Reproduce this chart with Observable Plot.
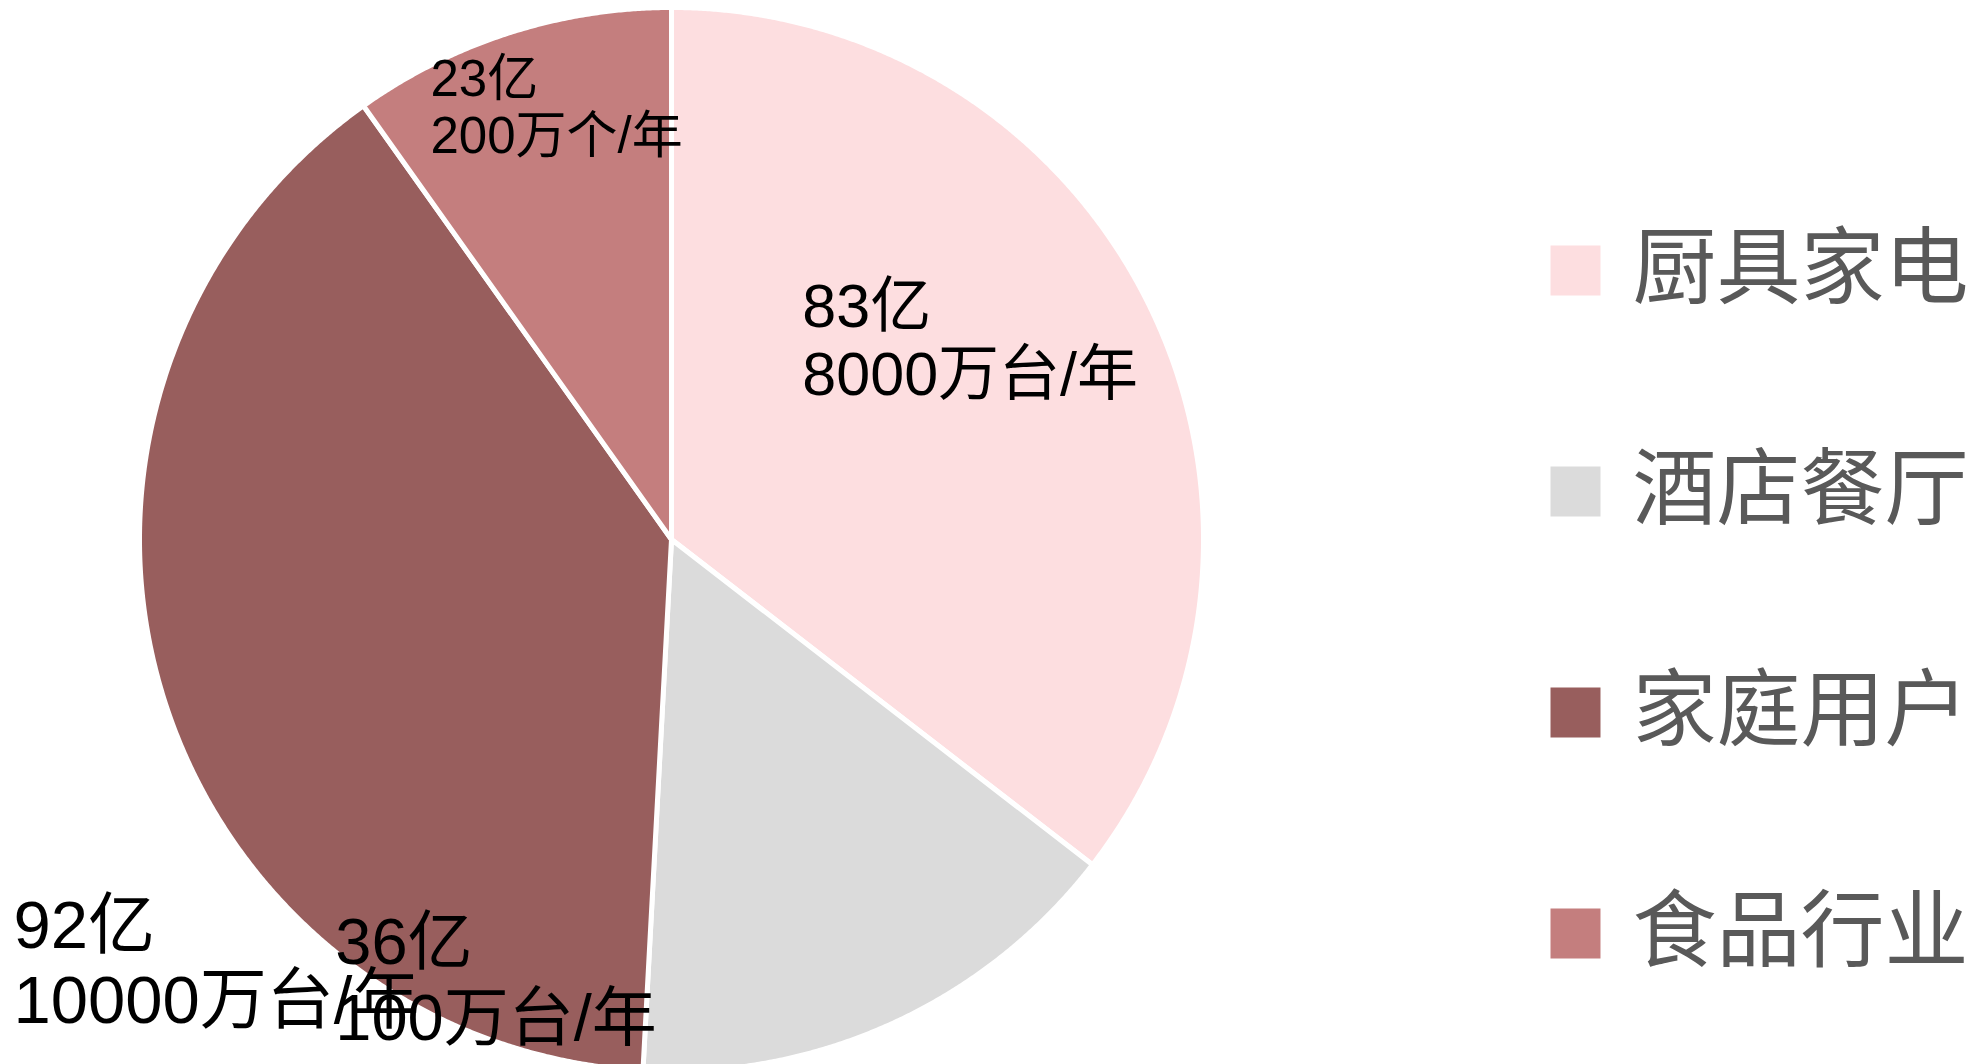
<!DOCTYPE html>
<html>
<head>
<meta charset="utf-8">
<script src="https://cdn.jsdelivr.net/npm/d3@7"></script>
<script src="https://cdn.jsdelivr.net/npm/@observablehq/plot@0.6"></script>
<style>
  html, body { margin: 0; padding: 0; background: #fff; overflow: hidden; }
  #wrap { position: relative; width: 1974px; height: 1064px; }
  #legend { position: absolute; left: 1530px; top: 160px; }
  svg { display: block; }
</style>
</head>
<body>
<div id="wrap"><div id="pie"></div><div id="legend"></div></div>
<script>
// ---- data ----
const categories = ["厨具家电", "酒店餐厅", "家庭用户", "食品行业"];
const values = [83, 36, 92, 23];
const valueLabels = ["83亿", "36亿", "92亿", "23亿"];
const capacityLabels = ["8000万台/年", "100万台/年", "10000万台/年", "200万个/年"];

// ---- styles / layout ----
const colors = ["#fddee0", "#dbdbdb", "#985e5d", "#c47e7e"];
const W = 1974, H = 1064;
const cx = 671, cy = 539, R = 532;
// label anchor (top-left) in pie-radius units, relative to the pie centre
const labelLayout = [
  {lx: 0.246, ly: -0.489, size: 61, lh: 1.11},
  {lx: -0.632, ly: 0.695, size: 65, lh: 1.18},
  {lx: -1.237, ly: 0.668, size: 67, lh: 1.12},
  {lx: -0.453, ly: -0.910, size: 51, lh: 1.12}
];
const labelFont = "'Liberation Sans', 'Noto Sans CJK SC', sans-serif";

// ---- pie geometry from values ----
const arcs = d3.pie().sort(null).value(d => d.value)(
  categories.map((c, i) => ({category: c, value: values[i]}))
);
const pts = [];
for (const a of arcs) {
  const c = a.data.category;
  pts.push({category: c, x: 0, y: 0});
  const n = Math.max(2, Math.ceil((a.endAngle - a.startAngle) / 0.004));
  for (let k = 0; k <= n; k++) {
    const t = a.startAngle + (a.endAngle - a.startAngle) * k / n;
    pts.push({category: c, x: Math.sin(t), y: -Math.cos(t)});
  }
  pts.push({category: c, x: 0, y: 0});
}

const labels = categories.map((c, i) => ({
  text: valueLabels[i] + "\n" + capacityLabels[i],
  x: labelLayout[i].lx, y: labelLayout[i].ly,
  size: labelLayout[i].size, lh: labelLayout[i].lh
}));

const color = {domain: categories, range: colors};

const pie = Plot.plot({
  width: W, height: H,
  margin: 0,
  style: {background: "transparent", overflow: "visible"},
  x: {domain: [-cx / R, (W - cx) / R], range: [0, W], axis: null},
  y: {domain: [-cy / R, (H - cy) / R], range: [0, H], axis: null},
  color,
  marks: [
    Plot.line(pts, {x: "x", y: "y", z: "category", fill: "category",
      stroke: "white", strokeWidth: 5, strokeLinejoin: "round", curve: "linear"}),
    ...labels.map(d => Plot.text([d], {
      x: "x", y: "y", text: "text", textAnchor: "start", lineAnchor: "top",
      fontSize: d.size, lineHeight: d.lh, fill: "#000", fontFamily: labelFont
    }))
  ]
});
document.getElementById("pie").appendChild(pie);

const legend = Plot.plot({
  width: 444, height: 884,
  margin: 0,
  style: {background: "transparent", overflow: "visible"},
  x: {domain: [0, 1], range: [45, 400], axis: null},
  y: {type: "point", domain: categories, range: [110, 773], padding: 0, axis: null},
  color,
  marks: [
    Plot.dot(categories, {x: () => 0, y: d => d, fill: d => d, symbol: "square", r: 28.2, stroke: null}),
    Plot.text(categories, {x: () => 0, y: d => d, text: d => d, dx: 57, textAnchor: "start",
      fontSize: 84, fill: "#595959", fontFamily: "'Noto Sans CJK SC', sans-serif"})
  ]
});
document.getElementById("legend").appendChild(legend);
</script>
</body>
</html>
